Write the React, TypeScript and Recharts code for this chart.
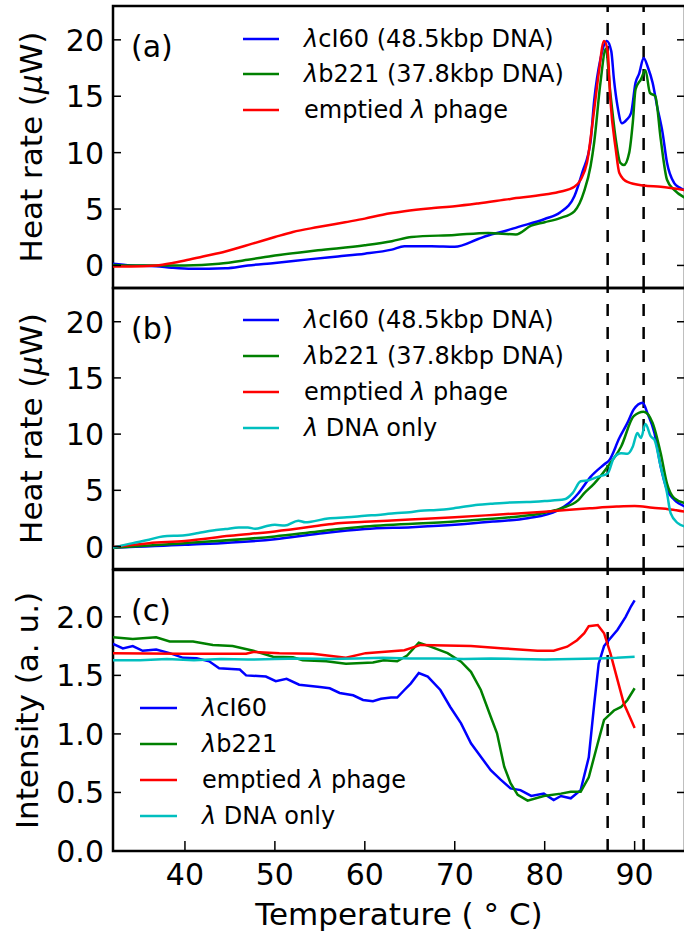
import React from "react";
import { LineChart, Line, XAxis, YAxis, ReferenceLine, ReferenceArea, Legend, Label } from "recharts";

type Pt = [number, number];

const tempTicks = [40, 50, 60, 70, 80, 90];
const heatTicks = [0, 5, 10, 15, 20];
const intensityTicks = [0, 0.5, 1, 1.5, 2];
const transitionTemps = [87, 91];

// (a) heat rate, uW  [temperature, value]
const aCI60: Pt[] = [
  [32, 0.15], [34, 0.0], [36.8, -0.07], [38.5, -0.2], [40.8, -0.3], [44.5, -0.25], [47, 0], [50, 0.22],
  [54, 0.56], [57, 0.8], [60, 1.04], [63, 1.4], [64.4, 1.7], [67.4, 1.7], [70, 1.65], [72.6, 2.34],
  [73.7, 2.65], [75.5, 3.03], [77, 3.4], [80, 4.12], [81.7, 4.7], [83.3, 6.14], [84.2, 8.3], [85.1, 11],
  [85.5, 14.6], [86.2, 18.3], [86.9, 19.9], [87.4, 19.0], [87.7, 16.5], [88.1, 14.1], [88.6, 12.6],
  [89.1, 12.9], [89.6, 13.5], [90.1, 16.2], [90.5, 17.0], [91.0, 18.4], [91.5, 17.5], [92.0, 16.2],
  [92.5, 14.1], [93.1, 11.8], [93.6, 9.1], [94.4, 7.3], [95.0, 6.9], [95.6, 6.67],
];
const aB221: Pt[] = [
  [32, 0.05], [34, 0], [36.8, 0], [40, 0], [43.8, 0.15], [47, 0.5], [50, 0.88], [54.8, 1.34], [60, 1.79],
  [63, 2.15], [65.2, 2.52], [70, 2.7], [73.7, 2.88], [76.8, 2.75], [78.5, 3.53], [80, 3.83], [81.7, 4.2],
  [83.3, 4.8], [84.4, 6.6], [85.1, 8.8], [85.5, 10.9], [86.2, 16.2], [86.8, 19.2], [87.3, 15.3],
  [87.9, 11.2], [88.4, 9.1], [88.8, 8.9], [89.4, 10], [89.8, 12.7], [90.1, 15.6], [90.7, 16.5],
  [91.2, 17.3], [91.7, 15.3], [92.3, 15.0], [92.9, 11.2], [93.6, 7.6], [94.4, 6.7], [95.6, 6.0],
];
const aEmpty: Pt[] = [
  [32, -0.1], [34, -0.1], [36.8, 0], [38.5, 0.2], [40, 0.44], [42, 0.8], [44.5, 1.24], [47.5, 1.93],
  [50, 2.52], [52, 2.97], [54.8, 3.4], [57.8, 3.83], [60, 4.15], [62, 4.5], [64.4, 4.8], [67.4, 5.07],
  [70, 5.25], [72.6, 5.5], [76.2, 5.9], [80, 6.28], [81.8, 6.55], [83.3, 6.97], [84.0, 7.6], [84.7, 9.1],
  [85.5, 13.8], [86.0, 17], [86.6, 19.9], [87.0, 19.0], [87.3, 14.7], [87.9, 10.3], [88.3, 8.2],
  [89.2, 7.4], [91.0, 7.08], [92.9, 6.97], [95.6, 6.67],
];

// (b) heat rate, uW
const bCI60: Pt[] = [
  [32, -0.1], [40, 0.15], [50, 0.65], [54.8, 1.13], [60, 1.55], [65.2, 1.72], [70, 1.93], [74.4, 2.23],
  [78.1, 2.52], [81.4, 3.2], [82.6, 3.8], [83.7, 4.7], [85.1, 6.2], [86.6, 7.3], [87.2, 7.7], [88.3, 9.65],
  [89.2, 11.0], [89.9, 12.2], [90.9, 12.8], [91.4, 11.9], [92.2, 10.1], [92.9, 7.1], [93.6, 5.05],
  [94.4, 4.16], [95.6, 3.56],
];
const bB221: Pt[] = [
  [32, -0.1], [40, 0.3], [50, 0.9], [54.8, 1.34], [60, 1.78], [70, 2.23], [76.2, 2.6], [80, 3.0],
  [81.8, 3.4], [83.7, 4.1], [84.4, 4.75], [85.5, 5.6], [87.0, 7.1], [88.5, 8.9], [89.9, 11.6], [91.0, 12.0],
  [92.0, 11.0], [92.9, 8.3], [93.6, 5.6], [94.4, 4.3], [95.6, 3.86],
];
const bEmpty: Pt[] = [
  [32, -0.05], [36, 0.3], [40, 0.5], [45, 0.95], [50, 1.34], [54.8, 1.84], [57, 2.08], [60, 2.2], [65, 2.4],
  [70, 2.6], [75, 2.85], [80, 3.1], [85, 3.4], [88, 3.55], [90, 3.6], [92, 3.45], [94, 3.3], [95.6, 3.1],
];
const bDna: Pt[] = [
  [32, -0.1], [34.2, 0.3], [36, 0.6], [37.5, 0.9], [40, 1.0], [41.5, 1.2], [43.1, 1.43], [44.5, 1.55],
  [46, 1.69], [47, 1.7], [47.8, 1.57], [49, 1.8], [50, 1.93], [51.1, 1.87], [52.6, 2.3], [53.4, 2.15],
  [54, 2.2], [55.9, 2.5], [58, 2.6], [60, 2.73], [62, 2.85], [63.3, 2.97], [65, 3.05], [66.2, 3.18],
  [68, 3.25], [70, 3.42], [72.6, 3.71], [74, 3.8], [76.2, 3.92], [78, 3.95], [80, 4.05], [82.2, 4.2],
  [83.1, 4.75], [84.0, 5.8], [84.9, 5.9], [85.9, 6.2], [87.0, 6.5], [87.7, 7.9], [88.5, 8.3], [89.2, 8.25],
  [89.8, 8.9], [90.3, 10.1], [90.7, 9.65], [91.2, 10.9], [91.8, 9.8], [92.2, 9.5], [92.9, 7.1],
  [93.6, 4.75], [94.0, 2.97], [94.8, 2.08], [95.6, 1.78],
];

// (c) intensity, a.u.
const cCI60: Pt[] = [
  [32, 1.77], [33.1, 1.73], [34.2, 1.75], [35.3, 1.71], [36.8, 1.72], [38.3, 1.69], [39.8, 1.65],
  [41.3, 1.646], [42.7, 1.62], [43.8, 1.56], [46.1, 1.55], [46.8, 1.5], [49, 1.49], [50.1, 1.45],
  [51.3, 1.47], [52.7, 1.42], [55, 1.4], [56.1, 1.39], [57.2, 1.35], [58.7, 1.33], [59.8, 1.29],
  [60.9, 1.28], [61.8, 1.3], [62.9, 1.31], [63.6, 1.31], [64.4, 1.375], [65.1, 1.43], [66.0, 1.52],
  [67.0, 1.49], [68.4, 1.375], [69.5, 1.23], [70.7, 1.09], [71.8, 0.92], [72.9, 0.805], [74.0, 0.69],
  [75.1, 0.61], [76.2, 0.535], [77.3, 0.52], [78.5, 0.47], [79.9, 0.49], [81.0, 0.435], [81.8, 0.47],
  [82.9, 0.45], [84.0, 0.52], [84.9, 0.8], [85.5, 1.25], [86.0, 1.6], [86.6, 1.75], [87.0, 1.79],
  [88.1, 1.89], [89.0, 2.0], [89.6, 2.09], [90.0, 2.14],
];
const cB221: Pt[] = [
  [32, 1.825], [34.2, 1.81], [36.8, 1.825], [38.3, 1.79], [40.9, 1.79], [43.1, 1.76], [45.3, 1.75],
  [47.6, 1.71], [49.8, 1.66], [52, 1.655], [53.1, 1.63], [55.7, 1.62], [57.9, 1.6], [60.9, 1.61],
  [62.1, 1.63], [63.6, 1.62], [64.7, 1.67], [66.0, 1.78], [67.3, 1.745], [69.2, 1.69], [70.7, 1.617],
  [71.8, 1.53], [72.9, 1.375], [74.0, 1.147], [74.7, 1.005], [75.5, 0.72], [76.2, 0.58], [77.0, 0.48],
  [78.1, 0.43], [79.9, 0.47], [81.8, 0.49], [82.9, 0.505], [84.0, 0.505], [84.9, 0.63], [85.9, 0.92],
  [86.6, 1.12], [87.7, 1.2], [88.5, 1.23], [89.2, 1.29], [90.0, 1.39],
];
const cEmpty: Pt[] = [
  [32, 1.69], [39.4, 1.685], [46.8, 1.685], [47.6, 1.7], [50.5, 1.69], [54.2, 1.685], [57.9, 1.65],
  [60.1, 1.69], [64.4, 1.715], [66.2, 1.76], [71.8, 1.75], [75.5, 1.73], [79.2, 1.71], [81.0, 1.71],
  [82.5, 1.745], [83.6, 1.8], [84.4, 1.86], [84.9, 1.92], [85.9, 1.93], [86.6, 1.86], [87.3, 1.69],
  [88.1, 1.46], [88.8, 1.26], [89.6, 1.12], [90.0, 1.05],
];
const cDna: Pt[] = [
  [32, 1.63], [35, 1.63], [38, 1.64], [41, 1.63], [44, 1.64], [47, 1.635], [50, 1.64], [53, 1.645],
  [56, 1.64], [59, 1.645], [62, 1.65], [65, 1.645], [68, 1.645], [71, 1.64], [74, 1.645], [77, 1.64],
  [80, 1.635], [83, 1.64], [86, 1.645], [88, 1.65], [90, 1.66],
];

const namesLong = ["λcI60 (48.5kbp DNA)", "λb221 (37.8kbp DNA)", "emptied λ phage", "λ DNA only"];
const namesShort = ["λcI60", "λb221", "emptied λ phage", "λ DNA only"];
const colors = ["#0000ff", "#008000", "#ff0000", "#00bfbf"];

const FONT = "'DejaVu Sans', sans-serif";
const W = 700;
const X_DOMAIN: [number, number] = [32, 95.6];
const PLOT_W = W - 113 - 15;

const toRows = (pts: Pt[]) => pts.map(([t, v]) => ({ t, v }));

// lambda / mu are math italics in the original
const greek = (s: string) =>
  s.split(/([λμ])/).map((part, i) =>
    part === "λ" || part === "μ" ? <tspan key={i} fontStyle="italic">{part}</tspan> : part
  );
const greekHtml = (s: string) =>
  s.split(/(λ)/).map((part, i) => (part === "λ" ? <i key={i}>{part}</i> : part));

function XTick(props: any) {
  const { x, y, payload, plotH, showLabel, topTicks } = props;
  return (
    <g>
      <line x1={x} y1={y} x2={x} y2={y - 10} stroke="#000" strokeWidth={1.5} />
      {topTicks && <line x1={x} y1={y - plotH} x2={x} y2={y - plotH + 10} stroke="#000" strokeWidth={1.5} />}
      {showLabel && (
        <text x={x} y={y + 34} textAnchor="middle" fontSize={30} fill="#000" fontFamily={FONT}>
          {payload.value}
        </text>
      )}
    </g>
  );
}

function YTick(props: any) {
  const { x, y, payload, fmt } = props;
  return (
    <g>
      <line x1={x} y1={y} x2={x + 8} y2={y} stroke="#000" strokeWidth={1.5} />
      <line x1={x + PLOT_W - 8} y1={y} x2={x + PLOT_W} y2={y} stroke="#000" strokeWidth={1.5} />
      <text x={x - 9} y={y + 11} textAnchor="end" fontSize={30} fill="#000" fontFamily={FONT}>
        {fmt(payload.value)}
      </text>
    </g>
  );
}

function LegendBox({ names, rowH, swatch, gap }: { names: string[]; rowH: number; swatch: number; gap: number }) {
  return (
    <div style={{ fontFamily: FONT, fontSize: 24, color: "#000" }}>
      {names.map((n, i) => (
        <div key={n} style={{ display: "flex", alignItems: "center", height: rowH }}>
          <svg width={swatch} height={6} style={{ display: "block" }}>
            <line x1={0} y1={3} x2={swatch} y2={3} stroke={colors[i]} strokeWidth={2.5} />
          </svg>
          <span style={{ marginLeft: gap, whiteSpace: "nowrap", lineHeight: 1 }}>{greekHtml(n)}</span>
        </div>
      ))}
    </div>
  );
}

type PanelProps = {
  top: number;
  height: number;
  mTop: number;
  mBottom: number;
  series: Pt[][];
  names: string[];
  yDomain: [number, number];
  yTicks: number[];
  fmt: (v: number) => string;
  yTitle: string;
  yTitleX: number;
  tag: string;
  legendLeft: number;
  legendTop: number;
  rowH: number;
  swatch: number;
  gap: number;
  showX?: boolean;
  topTicks?: boolean;
  curve: "monotone" | "linear";
};

function Panel(p: PanelProps) {
  const xH = p.showX ? 60 : 0;
  const plotH = p.height - p.mTop - p.mBottom - xH;
  return (
    <div style={{ position: "absolute", left: 0, top: p.top }}>
      <LineChart width={W} height={p.height} margin={{ top: p.mTop, right: 15, bottom: p.mBottom, left: 13 }}>
        <XAxis
          type="number"
          dataKey="t"
          domain={X_DOMAIN}
          ticks={tempTicks}
          interval={0}
          height={xH}
          tickSize={0}
          tickMargin={0}
          tickLine={false}
          axisLine={false}
          allowDataOverflow
          tick={(t: any) => <XTick {...t} plotH={plotH} showLabel={p.showX} topTicks={p.topTicks} />}
          label={
            p.showX ? (
              <Label
                content={(lp: any) => (
                  <text x={113 + PLOT_W / 2} y={(lp.viewBox?.y ?? 294) + 74} textAnchor="middle" fontSize={31} fill="#000" fontFamily={FONT}>
                    Temperature ( ° C)
                  </text>
                )}
              />
            ) : undefined
          }
        />
        <YAxis
          type="number"
          domain={p.yDomain}
          ticks={p.yTicks}
          interval={0}
          width={100}
          tickSize={0}
          tickMargin={0}
          tickLine={false}
          axisLine={false}
          allowDataOverflow
          tick={(t: any) => <YTick {...t} fmt={p.fmt} />}
          label={
            <Label
              content={(lp: any) => {
                const cy = (lp.viewBox?.y ?? p.mTop) + (lp.viewBox?.height ?? plotH) / 2;
                return (
                  <text
                    x={p.yTitleX}
                    y={cy}
                    transform={`rotate(-90, ${p.yTitleX}, ${cy})`}
                    textAnchor="middle"
                    dominantBaseline="central"
                    fontSize={31}
                    fill="#000"
                    fontFamily={FONT}
                  >
                    {greek(p.yTitle)}
                  </text>
                );
              }}
            />
          }
        />
        <ReferenceArea
          x1={X_DOMAIN[0]}
          x2={X_DOMAIN[1]}
          y1={p.yDomain[0]}
          y2={p.yDomain[1]}
          fill="none"
          fillOpacity={0}
          stroke="#000"
          strokeWidth={2.5}
          ifOverflow="visible"
          label={(lp: any) => (
            <text x={lp.viewBox.x + 18} y={lp.viewBox.y + 50.5} fontSize={30} fill="#000" fontFamily={FONT}>
              {p.tag}
            </text>
          )}
        />
        {transitionTemps.map((x) => (
          <ReferenceLine key={x} x={x} stroke="#000" strokeWidth={2.5} strokeDasharray="12 11" />
        ))}
        {p.series.map((s, i) => (
          <Line
            key={p.names[i]}
            data={toRows(s)}
            dataKey="v"
            name={p.names[i]}
            type={p.curve}
            stroke={colors[i]}
            strokeWidth={2.5}
            dot={false}
            activeDot={false}
            isAnimationActive={false}
          />
        ))}
        <Legend
          layout="vertical"
          verticalAlign="middle"
          align="center"
          wrapperStyle={{ left: p.legendLeft, top: p.legendTop, width: 420, height: "auto" }}
          content={() => <LegendBox names={p.names} rowH={p.rowH} swatch={p.swatch} gap={p.gap} />}
        />
      </LineChart>
    </div>
  );
}

export default function App() {
  const heatFmt = (v: number) => String(v);
  const intFmt = (v: number) => v.toFixed(1);
  return (
    <div style={{ position: "absolute", left: 0, top: 0, width: 684, height: 931, overflow: "hidden", background: "#fff", fontFamily: FONT }}>
      <Panel
        top={0}
        height={300}
        mTop={6}
        mBottom={12}
        series={[aCI60, aB221, aEmpty]}
        names={namesLong.slice(0, 3)}
        yDomain={[-2, 23]}
        yTicks={heatTicks}
        fmt={heatFmt}
        yTitle="Heat rate (μW)"
        yTitleX={31}
        tag="(a)"
        legendLeft={243}
        legendTop={21}
        rowH={35.5}
        swatch={36}
        gap={25}
        topTicks
        curve="monotone"
      />
      <Panel
        top={276}
        height={300}
        mTop={12}
        mBottom={7}
        series={[bCI60, bB221, bEmpty, bDna]}
        names={namesLong}
        yDomain={[-2, 23]}
        yTicks={heatTicks}
        fmt={heatFmt}
        yTitle="Heat rate (μW)"
        yTitleX={31}
        tag="(b)"
        legendLeft={243}
        legendTop={26}
        rowH={36}
        swatch={36}
        gap={25}
        topTicks
        curve="monotone"
      />
      <Panel
        top={557}
        height={374}
        mTop={13}
        mBottom={20}
        series={[cCI60, cB221, cEmpty, cDna]}
        names={namesShort}
        yDomain={[0, 2.4]}
        yTicks={intensityTicks}
        fmt={intFmt}
        yTitle="Intensity (a. u.)"
        yTitleX={27}
        tag="(c)"
        legendLeft={140}
        legendTop={133}
        rowH={36}
        swatch={37}
        gap={25}
        showX
        curve="linear"
      />
    </div>
  );
}
